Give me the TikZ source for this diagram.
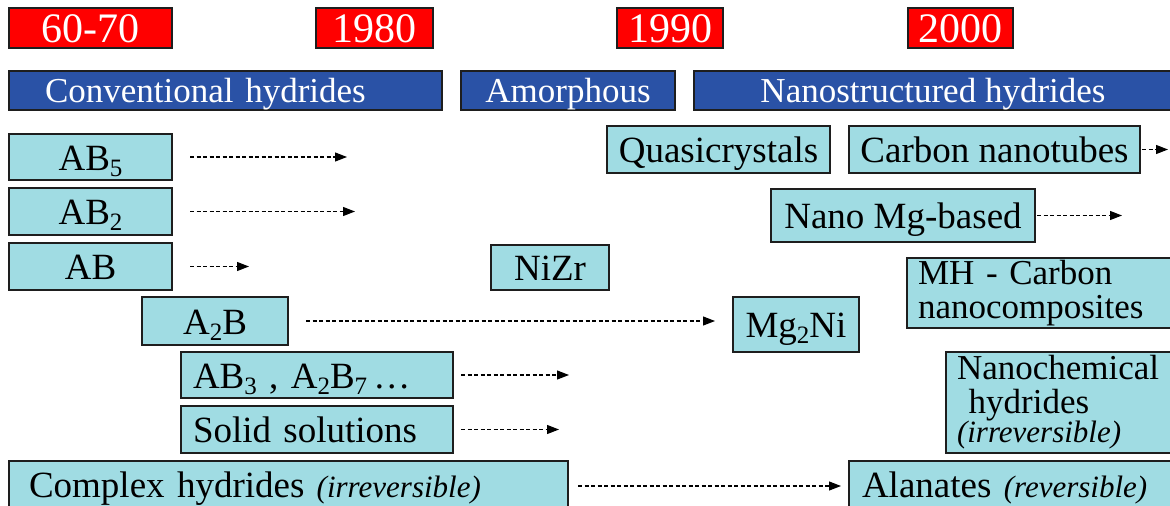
\documentclass[tikz,border=0pt]{standalone}
\usepackage{fontspec}
\setmainfont{Liberation Serif}
\usetikzlibrary{arrows.meta,calc}
\definecolor{yred}{HTML}{FF0000}
\definecolor{hblue}{HTML}{2A52A6}
\definecolor{hcyan}{HTML}{A0DCE3}
\definecolor{edge}{HTML}{1E1E1E}
\newcommand\sbs[1]{\raisebox{-6pt}{\fontsize{25}{25}\selectfont #1}}
\newcommand\itl[1]{{\fontsize{31}{31}\selectfont\itshape #1}}
\newcommand\bx[7]{\node[#6, minimum width={#4-#2}, minimum height={#5-#3}] (#1) at ({(#2+#4)/2},{(#3+#5)/2}) {#7};}
\newcommand\lbx[8]{\node[#7, anchor=west, inner xsep=#6pt, text width={#4-#2-2*#6}, align=left, minimum height={#5-#3}] (#1) at (#2,{(#3+#5)/2}) {#8};}
\tikzset{
  base/.style={draw=edge, line width=1.8pt, inner sep=0pt, outer sep=0pt},
  yearbox/.style={base, text height=32pt, text depth=3pt, fill=yred, text=white, font=\fontsize{42}{42}\selectfont},
  erabox/.style={base, text height=27pt, text depth=2.5pt, fill=hblue, text=white, font=\fontsize{35}{35}\selectfont},
  matbox/.style={base, text height=28.5pt, text depth=2.5pt, fill=hcyan, text=black, font=\fontsize{37}{38}\selectfont},
  multibox/.style={base, fill=hcyan, text=black, font=\fontsize{35}{34}\selectfont},
  dar/.style={line width=1.1pt, dash pattern=on 4pt off 2.5pt, -{Triangle[length=12pt,width=9pt]}}
}
\begin{document}
\begin{tikzpicture}[x=1pt,y=-1pt]
\useasboundingbox (0,0) rectangle (1170,506);
% years
\bx{y60}{9}{8}{172}{48}{yearbox}{60-70}
\bx{y80}{316}{8}{433}{48}{yearbox}{1980}
\bx{y90}{617}{8}{723}{48}{yearbox}{1990}
\bx{y00}{908}{8}{1013}{48}{yearbox}{2000}
% eras
\lbx{conv}{9}{71}{442}{110}{36}{erabox}{Conventional hydrides}
\bx{amor}{461}{71}{675}{110}{erabox}{Amorphous}
\bx{nano}{694}{71}{1172}{110}{erabox}{Nanostructured hydrides}
% materials
\bx{ab5}{9}{134}{172}{180}{matbox}{AB\sbs{5}}
\bx{ab2}{9}{188}{172}{235}{matbox}{AB\sbs{2}}
\bx{ab}{9}{243}{172}{290}{matbox}{AB}
\bx{a2b}{142}{297}{288}{345}{matbox}{A\sbs{2}B}
\lbx{ab3}{181}{352}{453}{398}{12}{matbox}{AB\sbs{3} , A\sbs{2}B\sbs{7}\,\ldots}
\lbx{sol}{181}{406}{453}{453}{12}{matbox}{Solid solutions}
\lbx{cplx}{9}{461}{568}{508}{20}{matbox}{Complex hydrides \itl{(irreversible)}}
\bx{quasi}{607}{126}{830}{173}{matbox}{Quasicrystals}
\bx{cnt}{849}{126}{1140}{173}{matbox}{Carbon nanotubes}
\bx{nmg}{771}{189}{1035}{242}{matbox}{Nano Mg-based}
\bx{nizr}{491}{245}{609}{290}{matbox}{NiZr}
\lbx{mhc}{907}{258}{1172}{328}{11}{multibox}{MH - Carbon\\nanocomposites}
\bx{mg2ni}{733}{297}{859}{352}{matbox}{Mg\sbs{2}Ni}
\lbx{nch}{946}{352}{1172}{453}{11}{multibox}{Nanochemical\\\ hydrides\\[-5pt]\itl{(irreversible)}}
\lbx{alan}{849}{461}{1172}{508}{13}{matbox}{Alanates \itl{(reversible)}}
% arrow ends
\coordinate (e1) at (347,157);
\coordinate (e2) at (355,211.5);
\coordinate (e3) at (249,266.5);
\coordinate (e5) at (569,375);
\coordinate (e6) at (559,429.5);
\coordinate (e8) at (1168,149.5);
\coordinate (e9) at (1122,215.5);
\draw[dar, shorten <=18pt] (ab5) -- (e1);
\draw[dar, shorten <=18pt] (ab2) -- (e2);
\draw[dar, shorten <=18pt] (ab) -- (e3);
\draw[dar, shorten <=8pt] (ab3) -- (e5);
\draw[dar, shorten <=8pt] (sol) -- (e6);
\draw[dar, shorten <=2pt] (cnt) -- (e8);
\draw[dar, shorten <=2pt] (nmg) -- (e9);
\draw[dar, shorten <=18pt, shorten >=18pt] (a2b.east) -- (a2b.east -| mg2ni.west);
\draw[dar, shorten <=10pt, shorten >=8pt] ($(cplx.east)+(0,1.5)$) -- ($(cplx.east -| alan.west)+(0,1.5)$);
\end{tikzpicture}
\end{document}
